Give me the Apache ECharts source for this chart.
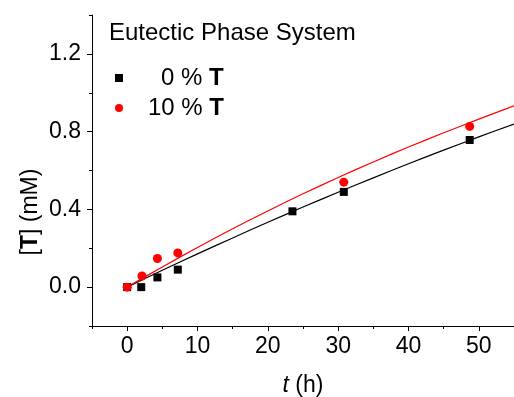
<!DOCTYPE html>
<html>
<head>
<meta charset="utf-8">
<script src="https://cdn.jsdelivr.net/npm/echarts@6/dist/echarts.min.js"></script>
<style>
html,body{margin:0;padding:0;background:#fff;}
#c{width:514px;height:397px;}
</style>
</head>
<body>
<div id="c"></div>
<script>
// ---- data ----
const titleText = 'Eutectic Phase System';
const seriesNames = ['0 % T', '10 % T'];
// measured points (t in h, [T] in mM)
const t0 = [0, 2.0, 4.3, 7.2, 23.5, 30.8, 48.7];
const y0 = [0, 0.0, 0.05, 0.09, 0.39, 0.49, 0.757];
const t10 = [0, 2.1, 4.3, 7.2, 30.8, 48.7];
const y10 = [0, 0.057, 0.147, 0.176, 0.54, 0.827];
// fitted curves
const fitT = [0, 5, 10, 15, 20, 25, 30, 35, 40, 45, 50, 55];
const fit0 = [0, 0.087, 0.171, 0.253, 0.334, 0.412, 0.488, 0.562, 0.635, 0.705, 0.773, 0.839];
const fit10 = [0, 0.104, 0.204, 0.300, 0.392, 0.480, 0.564, 0.644, 0.721, 0.794, 0.864, 0.933];
// axes
const xMin = -5, xMax = 55, xMinorStep = 5, xMajorMin = 0, xMajorMax = 50, xMajorStep = 10;
const yMin = -0.2, yMax = 1.4, yMinorStep = 0.2, yMajorMin = 0, yMajorMax = 1.2, yMajorStep = 0.4;

const FONT = 'Liberation Sans, Arial, sans-serif';
const W = 514, H = 397;
const gL = 92, gR = 0, gT = 15, gB = 71;
const pw = W - gL - gR, ph = H - gT - gB;
const px = v => gL + (v - xMin) / (xMax - xMin) * pw;
const py = v => gT + (yMax - v) / (yMax - yMin) * ph;

const zip = (a, b) => a.map((v, i) => [v, b[i]]);

const chart = echarts.init(document.getElementById('c'), null, {renderer: 'canvas'});
chart.setOption({
  animation: false,
  backgroundColor: '#fff',
  grid: [
    {left: gL, right: gR, top: gT, bottom: gB, outerBoundsMode: 'none', containLabel: false},
    // major y ticks grid
    {left: gL, right: gR, top: py(yMajorMax), bottom: H - py(yMajorMin), outerBoundsMode: 'none', containLabel: false},
    // major x ticks grid
    {left: px(xMajorMin), right: W - px(xMajorMax), top: gT, bottom: gB, outerBoundsMode: 'none', containLabel: false}
  ],
  xAxis: [
    {gridIndex: 0, type: 'value', min: xMin, max: xMax, interval: xMinorStep,
     axisLine: {show: true, onZero: false, lineStyle: {color: '#000', width: 1}},
     axisTick: {show: true, length: 3, lineStyle: {color: '#000'}},
     axisLabel: {show: false}, splitLine: {show: false},
     name: '{i|t} (h)', nameLocation: 'middle', nameGap: 48,
     nameTextStyle: {fontFamily: FONT, fontSize: 23, color: '#000',
       rich: {i: {fontStyle: 'italic', fontFamily: FONT, fontSize: 23, color: '#000'}}}},
    {gridIndex: 1, type: 'value', min: xMin, max: xMax, show: false},
    {gridIndex: 2, type: 'value', min: xMajorMin, max: xMajorMax, interval: xMajorStep,
     axisLine: {show: false, onZero: false},
     axisTick: {show: true, length: 5, lineStyle: {color: '#000'}},
     axisLabel: {show: true, margin: 9, fontFamily: FONT, fontSize: 23, color: '#000',
       formatter: v => String(Math.round(v))},
     splitLine: {show: false}}
  ],
  yAxis: [
    {gridIndex: 0, type: 'value', min: yMin, max: yMax, interval: yMinorStep,
     axisLine: {show: true, onZero: false, lineStyle: {color: '#000', width: 1}},
     axisTick: {show: true, length: 3, lineStyle: {color: '#000'}},
     axisLabel: {show: false}, splitLine: {show: false}},
    {gridIndex: 1, type: 'value', min: yMajorMin, max: yMajorMax, interval: yMajorStep,
     axisLine: {show: false, onZero: false},
     axisTick: {show: true, length: 5, lineStyle: {color: '#000'}},
     axisLabel: {show: true, margin: 11, fontFamily: FONT, fontSize: 23, color: '#000',
       formatter: v => v.toFixed(1)},
     splitLine: {show: false}},
    {gridIndex: 2, type: 'value', min: yMin, max: yMax, show: false}
  ],
  legend: {
    orient: 'vertical', left: 115, top: 66, padding: 0, itemWidth: 8, itemHeight: 8, itemGap: 6,
    data: [{name: seriesNames[0], icon: 'rect'}, {name: seriesNames[1], icon: 'circle'}],
    formatter: name => name === seriesNames[0] ? '{m|0 %}{b| T}' : '{n|10 %}{b| T}',
    textStyle: {fontFamily: FONT, fontSize: 24, color: '#000',
      rich: {
        n: {padding: [0, 0, 0, 20], fontFamily: FONT, fontSize: 24, lineHeight: 26, color: '#000'},
        m: {padding: [0, 0, 0, 33], fontFamily: FONT, fontSize: 24, lineHeight: 26, color: '#000'},
        b: {fontWeight: 'bold', fontFamily: FONT, fontSize: 24, lineHeight: 26, color: '#000'}
      }}
  },
  graphic: [
    {type: 'text', left: 109, top: 21,
     style: {text: titleText, font: '24px ' + FONT, fill: '#000'}},
    {type: 'text', x: 31, y: 212, rotation: Math.PI / 2,
     style: {text: '[{b|T}] (mM)', font: '23px ' + FONT, fill: '#000',
       align: 'center', verticalAlign: 'middle',
       rich: {b: {fontWeight: 'bold', fontFamily: FONT, fontSize: 23, fill: '#000'}}}}
  ],
  series: [
    {name: 'fit0', type: 'line', xAxisIndex: 0, yAxisIndex: 0, data: zip(fitT, fit0),
     showSymbol: false, symbol: 'none', smooth: 0.3, lineStyle: {color: '#000', width: 1.2}, itemStyle: {color: '#000'}, z: 2},
    {name: 'fit10', type: 'line', xAxisIndex: 0, yAxisIndex: 0, data: zip(fitT, fit10),
     showSymbol: false, symbol: 'none', smooth: 0.3, lineStyle: {color: '#ff0000', width: 1.2}, itemStyle: {color: '#ff0000'}, z: 2},
    {name: seriesNames[0], type: 'scatter', xAxisIndex: 0, yAxisIndex: 0, data: zip(t0, y0),
     symbol: 'rect', symbolSize: 8, itemStyle: {color: '#000', opacity: 1}, z: 3},
    {name: seriesNames[1], type: 'scatter', xAxisIndex: 0, yAxisIndex: 0, data: zip(t10, y10),
     symbol: 'circle', symbolSize: 9, itemStyle: {color: '#ff0000', opacity: 1}, z: 4}
  ]
});
</script>
</body>
</html>
